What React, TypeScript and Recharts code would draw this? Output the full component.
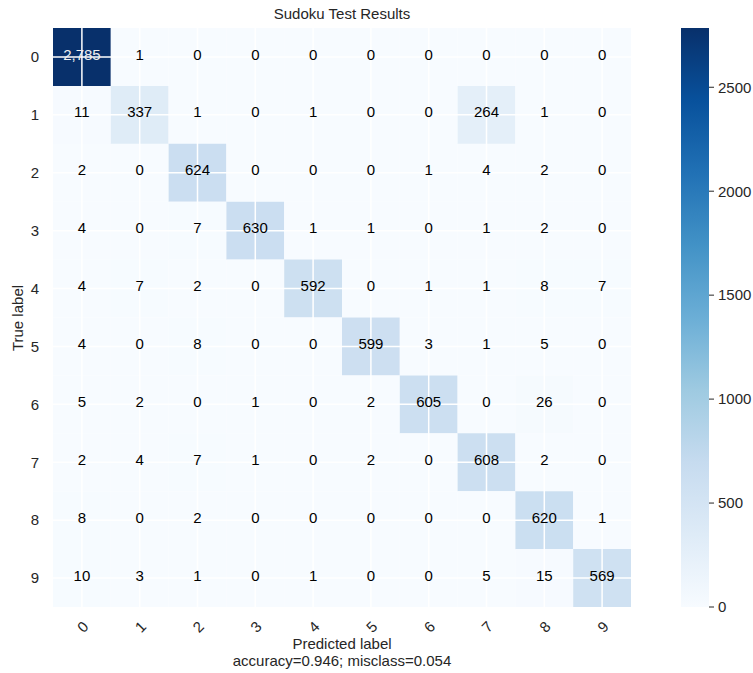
import React from 'react';
import { BarChart, Bar, XAxis, YAxis, ReferenceLine, Cell, LabelList } from 'recharts';

const trueLabels = ['0', '1', '2', '3', '4', '5', '6', '7', '8', '9'];
const predictedLabels = ['0', '1', '2', '3', '4', '5', '6', '7', '8', '9'];

const row0 = [2785, 1, 0, 0, 0, 0, 0, 0, 0, 0];
const row1 = [11, 337, 1, 0, 1, 0, 0, 264, 1, 0];
const row2 = [2, 0, 624, 0, 0, 0, 1, 4, 2, 0];
const row3 = [4, 0, 7, 630, 1, 1, 0, 1, 2, 0];
const row4 = [4, 7, 2, 0, 592, 0, 1, 1, 8, 7];
const row5 = [4, 0, 8, 0, 0, 599, 3, 1, 5, 0];
const row6 = [5, 2, 0, 1, 0, 2, 605, 0, 26, 0];
const row7 = [2, 4, 7, 1, 0, 2, 0, 608, 2, 0];
const row8 = [8, 0, 2, 0, 0, 0, 0, 0, 620, 1];
const row9 = [10, 3, 1, 0, 1, 0, 0, 5, 15, 569];

const colorbarTicks = [0, 500, 1000, 1500, 2000, 2500];

const rows = [row0, row1, row2, row3, row4, row5, row6, row7, row8, row9];

const BLUES = ['#f7fbff', '#deebf7', '#c6dbef', '#9ecae1', '#6baed6', '#4292c6', '#2171b5', '#08519c', '#08306b'];

function hexToRgb(h: string) {
  return [parseInt(h.slice(1, 3), 16), parseInt(h.slice(3, 5), 16), parseInt(h.slice(5, 7), 16)];
}
function blues(t: number) {
  const tt = Math.max(0, Math.min(1, t)) * (BLUES.length - 1);
  const i = Math.min(Math.floor(tt), BLUES.length - 2);
  const f = tt - i;
  const a = hexToRgb(BLUES[i]);
  const b = hexToRgb(BLUES[i + 1]);
  const c = a.map((v, k) => Math.round(v + (b[k] - v) * f));
  return `rgb(${c[0]},${c[1]},${c[2]})`;
}

const maxCount = Math.max(...rows.flat());
const correct = rows.reduce((s, r, i) => s + r[i], 0);
const total = rows.flat().reduce((s, v) => s + v, 0);
const accuracy = correct / total;

const tableData = trueLabels.map((lab, i) => {
  const o: any = { label: lab };
  predictedLabels.forEach((_, j) => {
    o[`u${j}`] = 1;
    o[`v${j}`] = rows[i][j];
  });
  return o;
});

const FONT = '"Liberation Sans", Arial, sans-serif';
const TEXT = '#262626';
const FS = 15;

const renderCellLabel = (props: any) => {
  const { x, y, width, height, value } = props;
  return (
    <text
      x={x + width / 2}
      y={y + height / 2 - 3}
      textAnchor="middle"
      dominantBaseline="central"
      fill={value > maxCount / 2 ? '#f0f0f0' : '#000'}
      fontSize={FS}
      fontFamily={FONT}
    >
      {Number(value).toLocaleString('en-US')}
    </text>
  );
};

const xTicks = predictedLabels.map((_, j) => j + 0.5);

export default function App() {
  return (
    <div style={{ position: 'absolute', left: 0, top: 0, width: 753, height: 673, background: '#fff', fontFamily: FONT, color: TEXT }}>
      <div style={{ position: 'absolute', left: 53, width: 578, top: 5, textAlign: 'center', fontSize: FS, lineHeight: '18px' }}>
        Sudoku Test Results
      </div>
      <div style={{ position: 'absolute', left: 18 - 50, top: 318 - 9, width: 100, textAlign: 'center', fontSize: FS, lineHeight: '18px', transform: 'rotate(-90deg)' }}>
        True label
      </div>
      <div style={{ position: 'absolute', left: 53, width: 578, top: 635, textAlign: 'center', fontSize: FS, lineHeight: '17px' }}>
        Predicted label
        <br />
        {`accuracy=${accuracy.toFixed(3)}; misclass=${(1 - accuracy).toFixed(3)}`}
      </div>
      <div style={{ position: 'absolute', left: 0, top: 0 }}>
        <BarChart
          width={753}
          height={673}
          data={tableData}
          layout="vertical"
          barCategoryGap={0}
          barGap={0}
          margin={{ top: 28, right: 122, bottom: 36, left: 23 }}
        >
          <XAxis
            type="number"
            domain={[0, 10]}
            ticks={xTicks}
            interval={0}
            tickFormatter={(v: number) => predictedLabels[Math.floor(v)]}
            axisLine={false}
            tickLine={false}
            tickMargin={10}
            angle={-45}
            height={30}
            tick={{ fill: TEXT, fontSize: FS, fontFamily: FONT, textAnchor: 'middle', dx: -3 }}
          />
          <YAxis
            type="category"
            dataKey="label"
            axisLine={false}
            tickLine={false}
            width={30}
            tickMargin={8}
            interval={0}
            tick={{ fill: TEXT, fontSize: FS, fontFamily: FONT }}
          />
          {predictedLabels.map((p, j) => (
            <Bar key={p} dataKey={`u${j}`} stackId="cm" isAnimationActive={false}>
              {tableData.map((d: any, i: number) => (
                <Cell key={d.label} fill={blues(rows[i][j] / maxCount)} />
              ))}
              <LabelList dataKey={`v${j}`} content={renderCellLabel} />
            </Bar>
          ))}
          {xTicks.map((t) => (
            <ReferenceLine key={`x${t}`} x={t} stroke="#ffffff" strokeWidth={1.5} />
          ))}
          {trueLabels.map((l) => (
            <ReferenceLine key={`y${l}`} y={l} stroke="#ffffff" strokeWidth={1.5} />
          ))}
        </BarChart>
      </div>
      <div style={{ position: 'absolute', left: 681, top: 0 }}>
        <BarChart
          width={72}
          height={673}
          data={[{ name: 'cb', v: maxCount }]}
          margin={{ top: 28, right: 0, bottom: 66, left: 0 }}
          barCategoryGap={0}
        >
          <defs>
            <linearGradient id="cbGrad" x1="0" y1="0" x2="0" y2="1">
              {BLUES.slice().reverse().map((c, k) => (
                <stop key={c} offset={k / (BLUES.length - 1)} stopColor={c} />
              ))}
            </linearGradient>
          </defs>
          <XAxis dataKey="name" hide />
          <YAxis
            type="number"
            orientation="right"
            domain={[0, maxCount]}
            ticks={colorbarTicks}
            width={44}
            axisLine={false}
            tickLine={{ stroke: TEXT }}
            tickSize={5}
            tickMargin={4}
            tick={{ fill: TEXT, fontSize: FS, fontFamily: FONT }}
          />
          <Bar dataKey="v" fill="url(#cbGrad)" isAnimationActive={false} />
        </BarChart>
      </div>
    </div>
  );
}
